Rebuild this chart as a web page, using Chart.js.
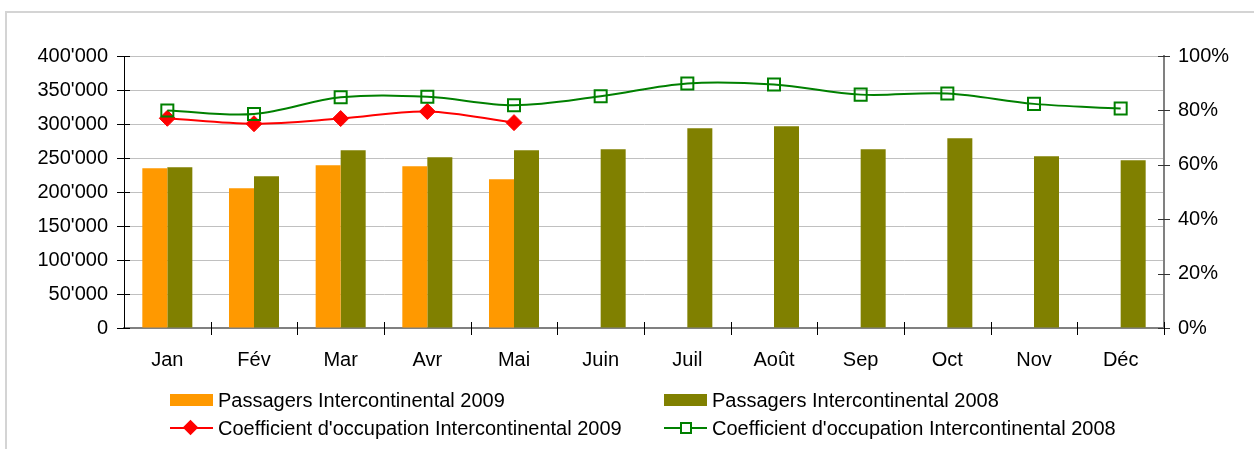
<!DOCTYPE html>
<html>
<head>
<meta charset="utf-8">
<script src="https://cdn.jsdelivr.net/npm/chart.js@4/dist/chart.umd.min.js"></script>
<style>
  html, body { margin: 0; padding: 0; background: #fff; }
  #wrap { position: relative; width: 1254px; height: 449px; overflow: hidden; }
  #frame { position: absolute; left: 5px; top: 11px; width: 1300px; height: 500px; border: 2px solid #d4d4d4; box-sizing: border-box; }
  canvas { position: absolute; left: 0; top: 0; }
  .lg { position: absolute; font-family: "Liberation Sans", Arial, sans-serif; font-size: 20px; color: #000; white-space: nowrap; line-height: 20px; }
  .sw { position: absolute; width: 43px; height: 12px; }
  .ln { position: absolute; width: 43px; height: 2px; }
</style>
</head>
<body>
<div id="wrap">
  <div id="frame"></div>
  <canvas id="c" width="1254" height="449"></canvas>
  <div class="sw" style="left:170px; top:394px; background:#FF9900"></div>
  <div class="lg" style="left:218px; top:390px">Passagers Intercontinental 2009</div>
  <div class="sw" style="left:664px; top:394px; background:#808000"></div>
  <div class="lg" style="left:712px; top:390px">Passagers Intercontinental 2008</div>
  <div class="ln" style="left:170px; top:427px; background:#FF0000"></div>
  <div style="position:absolute; left:185px; top:422px; width:11px; height:11px; background:#FF0000; transform:rotate(45deg)"></div>
  <div class="lg" style="left:218px; top:418px">Coefficient d'occupation Intercontinental 2009</div>
  <div class="ln" style="left:664px; top:427px; background:#008000"></div>
  <div style="position:absolute; left:680px; top:422px; width:12px; height:12px; border:2px solid #008000; background:#fff; box-sizing:border-box"></div>
  <div class="lg" style="left:712px; top:418px">Coefficient d'occupation Intercontinental 2008</div>
</div>
<script>
const months = ["Jan", "Fév", "Mar", "Avr", "Mai", "Juin", "Juil", "Août", "Sep", "Oct", "Nov", "Déc"];
const passengers2009 = [234800, 205400, 239200, 237700, 218600, null, null, null, null, null, null, null];
const passengers2008 = [236300, 223000, 261300, 251000, 261300, 262700, 293600, 296600, 262700, 278900, 252500, 246600];
const occupancy2009 = [0.771, 0.751, 0.770, 0.796, 0.755, null, null, null, null, null, null, null];
const occupancy2008 = [0.800, 0.787, 0.848, 0.850, 0.819, 0.852, 0.899, 0.895, 0.858, 0.862, 0.824, 0.807];
const leftTicks = [0, 50000, 100000, 150000, 200000, 250000, 300000, 350000, 400000];
const rightTicks = [0, 0.2, 0.4, 0.6, 0.8, 1.0];

Chart.defaults.font.family = '"Liberation Sans", Arial, sans-serif';
Chart.defaults.font.size = 20;
Chart.defaults.color = '#000';

function fmtThousands(v) {
  return String(Math.round(v)).replace(/\B(?=(\d{3})+(?!\d))/g, "'");
}

const crossTicks = {
  id: 'crossTicks',
  afterDraw(chart) {
    const ctx = chart.ctx;
    const x = chart.scales.x, y = chart.scales.y, y1 = chart.scales.y1;
    ctx.save();
    ctx.lineWidth = 1;
    ctx.strokeStyle = '#000';
    leftTicks.forEach(v => {
      const py = Math.round(y.getPixelForValue(v)) + 0.5;
      ctx.beginPath(); ctx.moveTo(y.right - 7, py); ctx.lineTo(y.right + 6, py); ctx.stroke();
    });
    ctx.strokeStyle = '#333';
    rightTicks.forEach(v => {
      const py = Math.round(y1.getPixelForValue(v)) + 0.5;
      ctx.beginPath(); ctx.moveTo(y1.left - 6, py); ctx.lineTo(y1.left + 6, py); ctx.stroke();
    });
    const n = months.length;
    const w = (x.right - x.left) / n;
    ctx.strokeStyle = '#000';
    for (let i = 1; i <= n; i++) {
      const px = Math.round(x.left + i * w) + 0.5;
      ctx.beginPath(); ctx.moveTo(px, x.top - 6); ctx.lineTo(px, x.top + 7); ctx.stroke();
    }
    ctx.restore();
  }
};

new Chart(document.getElementById('c'), {
  data: {
    labels: months,
    datasets: [
      {
        type: 'bar', label: 'Passagers Intercontinental 2009',
        data: passengers2009, yAxisID: 'y', order: 2,
        backgroundColor: '#FF9900', categoryPercentage: 0.577, barPercentage: 1.0
      },
      {
        type: 'bar', label: 'Passagers Intercontinental 2008',
        data: passengers2008, yAxisID: 'y', order: 3,
        backgroundColor: '#808000', categoryPercentage: 0.577, barPercentage: 1.0
      },
      {
        type: 'line', label: "Coefficient d'occupation Intercontinental 2009",
        data: occupancy2009, yAxisID: 'y1', order: 1,
        borderColor: '#FF0000', borderWidth: 2, tension: 0.35,
        pointStyle: 'rectRot', pointRadius: 8, pointBackgroundColor: '#FF0000', pointBorderColor: '#FF0000', pointBorderWidth: 1
      },
      {
        type: 'line', label: "Coefficient d'occupation Intercontinental 2008",
        data: occupancy2008, yAxisID: 'y1', order: 0,
        borderColor: '#008000', borderWidth: 2, tension: 0.35,
        pointStyle: 'rect', pointRadius: 8.5, pointBackgroundColor: 'rgba(255,255,255,0)', pointBorderColor: '#008000', pointBorderWidth: 2
      }
    ]
  },
  options: {
    responsive: false,
    animation: false,
    layout: { padding: { left: 0, right: 0, top: 56, bottom: 0 } },
    plugins: { legend: { display: false }, tooltip: { enabled: false } },
    scales: {
      x: {
        offset: true,
        grid: { display: false, drawTicks: false },
        border: { display: true, color: '#808080', width: 2 },
        ticks: { padding: 20, maxRotation: 0, autoSkip: false },
        afterFit(s) { s.height = 449 - 328; }
      },
      y: {
        position: 'left', min: 0, max: 400000,
        afterBuildTicks(s) { s.ticks = leftTicks.map(v => ({ value: v })); },
        ticks: { padding: 16, callback: v => fmtThousands(v) },
        grid: { color: '#c0c0c0', lineWidth: 1, drawTicks: false },
        border: { display: true, color: '#000', width: 1 },
        afterFit(s) { s.width = 124; }
      },
      y1: {
        position: 'right', min: 0, max: 1,
        afterBuildTicks(s) { s.ticks = rightTicks.map(v => ({ value: v })); },
        ticks: { padding: 14, callback: v => Math.round(v * 100) + '%' },
        grid: { drawOnChartArea: false, drawTicks: false },
        border: { display: true, color: '#808080', width: 2 },
        afterFit(s) { s.width = 1254 - 1164; }
      }
    }
  },
  plugins: [crossTicks]
});
</script>
</body>
</html>
